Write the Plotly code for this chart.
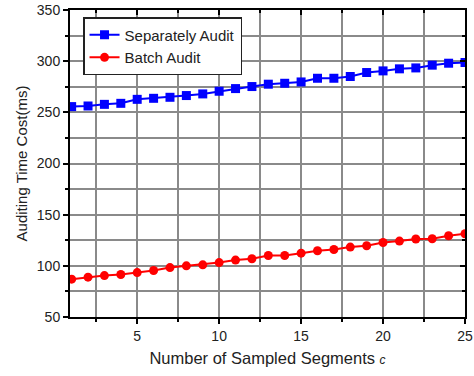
import plotly.graph_objects as go

c_values = list(range(1, 26))
separately_audit = [255.6, 256.2, 257.8, 258.8, 262.7, 263.7, 264.7, 266.4, 268.0, 270.6,
                    273.2, 275.2, 277.5, 278.4, 279.7, 283.3, 283.3, 285.0, 288.9, 290.5,
                    292.5, 293.4, 296.1, 298.0, 298.7]
batch_audit = [87.0, 88.9, 90.5, 91.5, 93.4, 95.4, 98.3, 100.0, 101.0, 103.2,
               105.6, 106.9, 110.1, 110.1, 112.4, 114.7, 116.0, 118.3, 119.6, 122.8,
               124.2, 126.2, 126.5, 129.4, 131.4]
x_ticks = [5, 10, 15, 20, 25]
y_ticks = [50, 100, 150, 200, 250, 300, 350]

FONT = "Liberation Sans, Arial, sans-serif"
GRID = "#8a8a8a"

fig = go.Figure()
fig.add_trace(go.Scatter(
    x=c_values, y=separately_audit, mode="lines+markers", name="Separately Audit",
    line=dict(color="#0000ff", width=2),
    marker=dict(symbol="square", size=9, color="#0000ff"),
))
fig.add_trace(go.Scatter(
    x=c_values, y=batch_audit, mode="lines+markers", name="Batch Audit",
    line=dict(color="#ff0000", width=2),
    marker=dict(symbol="circle", size=9, color="#ff0000"),
))
# invisible trace to realize mirrored inside ticks
fig.add_trace(go.Scatter(x=[c_values[0]], y=[y_ticks[0]], xaxis="x2", yaxis="y2",
                         mode="markers", marker=dict(opacity=0), showlegend=False,
                         hoverinfo="skip"))

xr = [0.9, 25]
yr = [50, 350]

fig.update_layout(
    width=474, height=376,
    margin=dict(l=70, r=9, t=10, b=59),
    paper_bgcolor="white", plot_bgcolor="white",
    font=dict(family=FONT, color="#222222", size=14),
    showlegend=True,
    legend=dict(
        x=0.033, y=0.977, xanchor="left", yanchor="top",
        bgcolor="white", bordercolor="#222222", borderwidth=1.5,
        font=dict(size=15, family=FONT, color="#222222"),
        tracegroupgap=0, itemwidth=30,
    ),
    xaxis=dict(
        range=xr, tickvals=x_ticks, ticks="outside", ticklen=5, tickwidth=1.5,
        tickcolor="black", showline=True, linecolor="black", linewidth=2, mirror=True,
        showgrid=True, gridcolor=GRID, gridwidth=1.5, zeroline=False,
        tickfont=dict(size=14), automargin=False,
        minor=dict(dtick=2.5, tick0=0, showgrid=True, gridcolor=GRID, gridwidth=1.5,
                   ticks="outside", ticklen=3, tickcolor="black"),
        title=dict(text="Number of Sampled Segments <span style='font-size:12px'><i>c</i></span>",
                   font=dict(size=16.5), standoff=10),
    ),
    yaxis=dict(
        range=yr, tickvals=y_ticks, ticks="outside", ticklen=5, tickwidth=1.5,
        tickcolor="black", showline=True, linecolor="black", linewidth=2, mirror=True,
        showgrid=True, gridcolor=GRID, gridwidth=1.5, zeroline=False,
        tickfont=dict(size=14), automargin=False,
        minor=dict(dtick=25, tick0=0, showgrid=True, gridcolor=GRID, gridwidth=1.5,
                   ticks="outside", ticklen=3, tickcolor="black"),
        title=dict(text="Auditing Time Cost(ms)", font=dict(size=15), standoff=6),
    ),
    xaxis2=dict(
        range=xr, overlaying="x", side="top", tickvals=x_ticks, ticks="inside",
        ticklen=5, tickwidth=1.5, tickcolor="black", showticklabels=False,
        showgrid=False, zeroline=False, automargin=False,
        minor=dict(dtick=2.5, tick0=0, ticks="inside", ticklen=3, tickcolor="black"),
    ),
    yaxis2=dict(
        range=yr, overlaying="y", side="right", tickvals=y_ticks, ticks="inside",
        ticklen=5, tickwidth=1.5, tickcolor="black", showticklabels=False,
        showgrid=False, zeroline=False, automargin=False,
        minor=dict(dtick=25, tick0=0, ticks="inside", ticklen=3, tickcolor="black"),
    ),
)

fig.write_html("out.html", config={"displayModeBar": False},
               post_script="document.body.style.margin='0';")
